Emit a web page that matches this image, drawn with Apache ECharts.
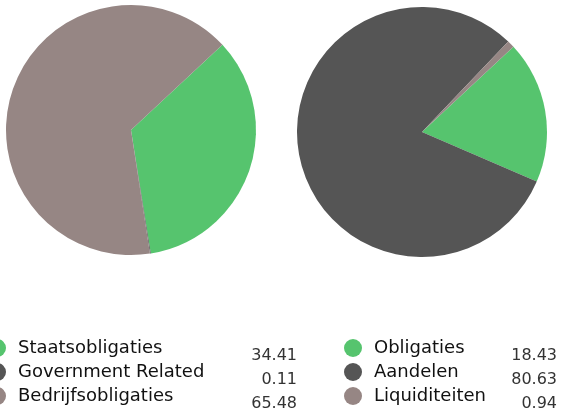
<!DOCTYPE html>
<html>
<head>
<meta charset="utf-8">
<script src="https://cdn.jsdelivr.net/npm/echarts@6/dist/echarts.min.js"></script>
<style>
html,body{margin:0;padding:0;background:#fff;}
#chart{width:561px;height:412px;}
</style>
</head>
<body>
<div id="chart"></div>
<script>
var leftNames = ['Staatsobligaties', 'Government Related', 'Bedrijfsobligaties'];
var leftValues = [34.41, 0.11, 65.48];
var rightNames = ['Obligaties', 'Aandelen', 'Liquiditeiten'];
var rightValues = [18.43, 80.63, 0.94];
var colors = ['#56c46e', '#555555', '#968684'];

var FONT = 'DejaVu Sans';

function toData(names, values) {
  return names.map(function (n, i) {
    return { name: n, value: values[i], itemStyle: { color: colors[i] } };
  });
}

function valueTexts(values, right, top) {
  return values.map(function (v, i) {
    return {
      type: 'text',
      right: right,
      top: top + i * 24,
      style: {
        text: v.toFixed(2),
        font: '16px "' + FONT + '"',
        fill: '#333333'
      }
    };
  });
}

function legendAt(names, left) {
  return {
    data: names,
    orient: 'vertical',
    left: left,
    top: 339,
    padding: 0,
    height: 80,
    icon: 'circle',
    itemWidth: 18,
    itemHeight: 18,
    itemGap: 6,
    selectedMode: false,
    textStyle: { fontFamily: FONT, fontSize: 18, color: '#111111', padding: [0, 0, 0, 7] }
  };
}

var chart = echarts.init(document.getElementById('chart'));
var option = {
  animation: false,
  legend: [legendAt(leftNames, -12), legendAt(rightNames, 344)],
  graphic: valueTexts(leftValues, 264, 348).concat(valueTexts(rightValues, 4, 348)),
  series: [
    {
      type: 'pie',
      center: [131, 130],
      radius: 125,
      startAngle: 43,
      clockwise: true,
      label: { show: false },
      labelLine: { show: false },
      emphasis: { disabled: true },
      data: toData(leftNames, leftValues)
    },
    {
      type: 'pie',
      center: [422, 132],
      radius: 125,
      startAngle: 43,
      clockwise: true,
      label: { show: false },
      labelLine: { show: false },
      emphasis: { disabled: true },
      data: toData(rightNames, rightValues)
    }
  ]
};
chart.setOption(option);
</script>
</body>
</html>
